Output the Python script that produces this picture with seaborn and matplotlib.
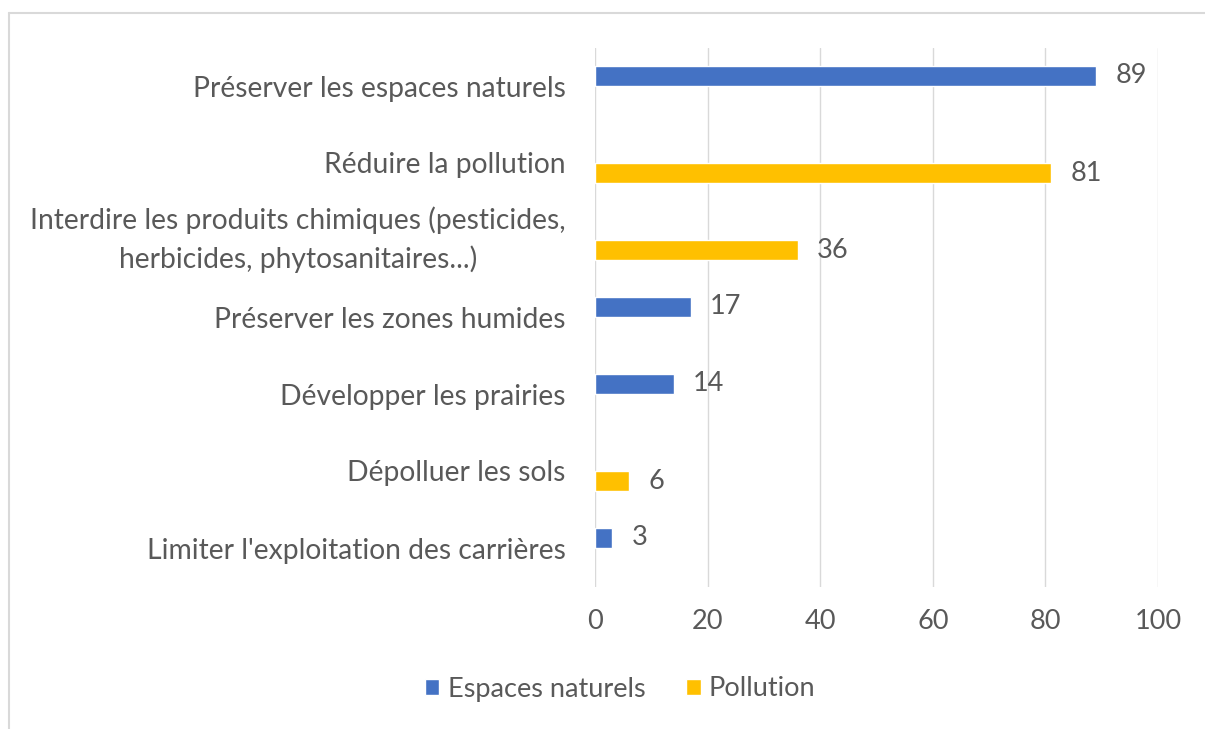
import numpy as np
import pandas as pd
import matplotlib
matplotlib.use('Agg')
import matplotlib.pyplot as plt
from matplotlib.lines import Line2D
import seaborn as sns


categories = ["Préserver les espaces naturels",
              "Réduire la pollution",
              "Interdire les produits chimiques (pesticides,\nherbicides, phytosanitaires...)",
              "Préserver les zones humides",
              "Développer les prairies",
              "Dépolluer les sols",
              "Limiter l'exploitation des carrières"]
espaces_naturels = [89, None, None, 17, 14, None, 3]
pollution = [None, 81, 36, None, None, 6, None]
series_names = ["Espaces naturels", "Pollution"]
series_colors = ["#4472C4", "#FFC000"]
x_ticks = [0, 20, 40, 60, 80, 100]

rows = []
for cat, v1, v2 in zip(categories, espaces_naturels, pollution):
    if v1 is not None:
        rows.append((cat, series_names[0], v1))
    if v2 is not None:
        rows.append((cat, series_names[1], v2))
df = pd.DataFrame(rows, columns=['categorie', 'groupe', 'valeur'])

sns.set_style('white')
plt.rcParams['font.family'] = ['Lato', 'DejaVu Sans']
txt_col = '#595959'
fs = 20.3

W, H = 1205, 729
fig = plt.figure(figsize=(W/100, H/100), dpi=100)
ax = fig.add_axes([595/W, 1 - 586.5/H, (1158-595)/W, (586.5-47.5)/H])

sns.barplot(data=df, y='categorie', x='valeur', hue='groupe', order=categories,
            hue_order=series_names, palette=series_colors, orient='h',
            width=0.52, dodge=True, saturation=1, ax=ax, legend=True)

for c in ax.containers:
    ax.bar_label(c, fmt='%g', padding=14, fontsize=19.5, color=txt_col)

ax.set_xlim(0, 100)
ax.set_xticks(x_ticks)
ax.xaxis.grid(True, color='#d9d9d9', lw=1)
ax.yaxis.grid(False)
for s in ax.spines.values():
    s.set_visible(False)
ax.set_xlabel('')
ax.set_ylabel('')
ax.tick_params(axis='x', length=0, pad=16, labelsize=19.5, labelcolor=txt_col)
ax.tick_params(axis='y', length=0, pad=21, labelsize=fs, labelcolor=txt_col)
for lab in ax.get_yticklabels():
    lab.set_multialignment('center')
    lab.set_linespacing(1.5)
    if '\n' in lab.get_text():
        lab.set_verticalalignment('center')

handles, labels = ax.get_legend_handles_labels()
ax.get_legend().remove()
fig.legend(handles, labels, loc='center', bbox_to_anchor=(620/W, 1 - 689/H),
           ncol=2, frameon=False, fontsize=19.5, labelcolor=txt_col,
           handlelength=0.55, handleheight=0.55, handletextpad=0.3, columnspacing=1.5)

# outer chart frame: only the top and left edges are visible
fig.add_artist(Line2D([9/W, 1.0], [1 - 13/H, 1 - 13/H], transform=fig.transFigure,
                      color='#d9d9d9', lw=1.5))
fig.add_artist(Line2D([9/W, 9/W], [0.0, 1 - 13/H], transform=fig.transFigure,
                      color='#d9d9d9', lw=1.5))

fig.savefig('out.png', dpi=100)
